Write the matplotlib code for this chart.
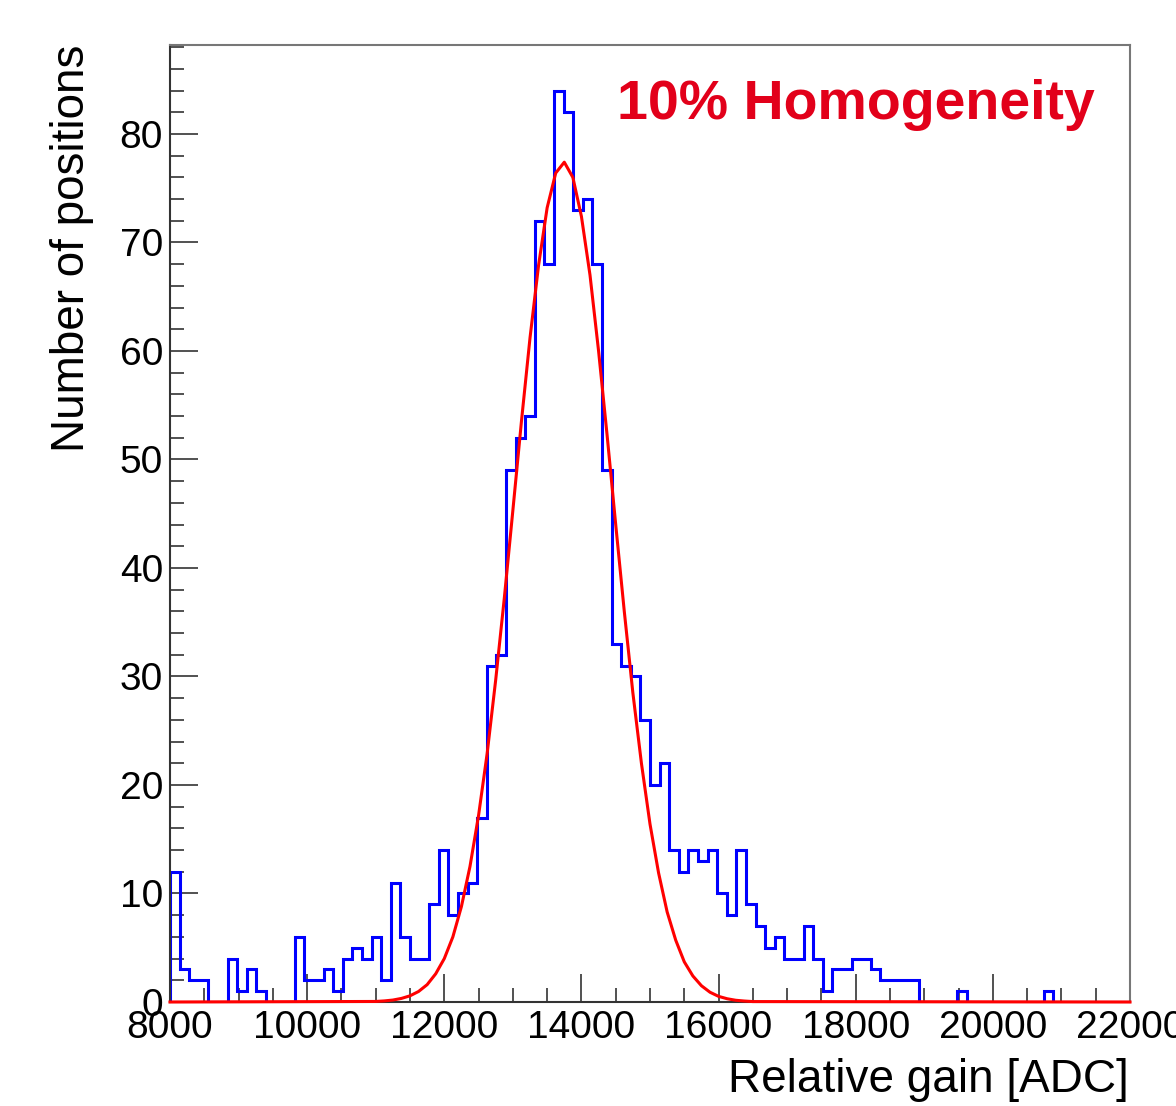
import numpy as np
import matplotlib
matplotlib.use('Agg')
import matplotlib.pyplot as plt
from matplotlib.ticker import MultipleLocator

plt.rcParams['font.family'] = ['Liberation Sans', 'DejaVu Sans']

# histogram: 100 bins of 140 ADC between 8000 and 22000
x_min, x_max, n_bins = 8000, 22000, 100
counts = [12, 3, 2, 2, 0, 0, 4, 1, 3, 1,
          0, 0, 0, 6, 2, 2, 3, 1, 4, 5,
          4, 6, 2, 11, 6, 4, 4, 9, 14, 8,
          10, 11, 17, 31, 32, 49, 52, 54, 72, 68,
          84, 82, 73, 74, 68, 49, 33, 31, 30, 26,
          20, 22, 14, 12, 14, 13, 14, 10, 8, 14,
          9, 7, 5, 6, 4, 4, 7, 4, 1, 3,
          3, 4, 4, 3, 2, 2, 2, 2, 0, 0,
          0, 0, 1, 0, 0, 0, 0, 0, 0, 0,
          0, 1, 0, 0, 0, 0, 0, 0, 0, 0]

# gaussian fit curve
fit_x = [8000, 11000, 11125, 11250, 11375, 11500, 11625, 11750, 11875,
         12000, 12125, 12250, 12375, 12500, 12625, 12750, 12875,
         13000, 13125, 13250, 13375, 13500, 13625, 13750, 13875,
         14000, 14125, 14250, 14375, 14500, 14625, 14750, 14875,
         15000, 15125, 15250, 15375, 15500, 15625, 15750, 15875,
         16000, 16125, 16250, 16375, 16500, 22000]
fit_y = [0, 0.05, 0.10, 0.18, 0.33, 0.57, 0.97, 1.6, 2.6,
         4.0, 6.0, 8.8, 12.5, 17.2, 22.9, 29.7, 37.2,
         45.3, 53.5, 61.2, 67.9, 73.2, 76.4, 77.4, 76.0,
         72.4, 67.0, 60.0, 52.2, 44.0, 36.0, 28.5, 22.0,
         16.4, 11.9, 8.3, 5.7, 3.7, 2.4, 1.5, 0.90,
         0.52, 0.30, 0.16, 0.09, 0.04, 0]

edges = np.linspace(x_min, x_max, n_bins + 1)

fig = plt.figure(figsize=(11.76, 11.06), dpi=100)
ax = fig.add_axes([170/1176, 1-1002/1106, 960/1176, 957/1106])

ax.stairs(counts, edges, color='#0000ff', lw=2.2, zorder=2)
ax.plot(fit_x, fit_y, color='#ff0000', lw=2.2, zorder=3, clip_on=False)

ax.set_xlim(x_min, x_max)
ax.set_ylim(0, 88.2)
ax.xaxis.set_major_locator(MultipleLocator(2000))
ax.xaxis.set_minor_locator(MultipleLocator(500))
ax.yaxis.set_major_locator(MultipleLocator(10))
ax.yaxis.set_minor_locator(MultipleLocator(2))
ax.tick_params(which='both', direction='in', top=False, right=False,
               color='#333333', labelsize=28)
ax.tick_params(which='major', length=20, width=1.2)
ax.tick_params(which='minor', length=10, width=1.2)
ax.tick_params(axis='x', pad=6)
ax.tick_params(axis='y', pad=5)

for side in ['top', 'right']:
    ax.spines[side].set_color('#777777')
for side in ['left', 'bottom']:
    ax.spines[side].set_color('#333333')
for s in ax.spines.values():
    s.set_linewidth(1.5)

ax.set_ylabel('Number of positions', fontsize=33, loc='top')
ax.yaxis.set_label_coords(-0.079, 1.0)
ax.set_xlabel('Relative gain [ADC]', fontsize=33, loc='right')
ax.xaxis.set_label_coords(0.999, -0.059)

fig.text(617/1176, 1-119/1106, '10% Homogeneity', color='#e2001a',
         fontsize=40, fontweight='bold', ha='left', va='baseline')

fig.savefig('out.png', dpi=100)
